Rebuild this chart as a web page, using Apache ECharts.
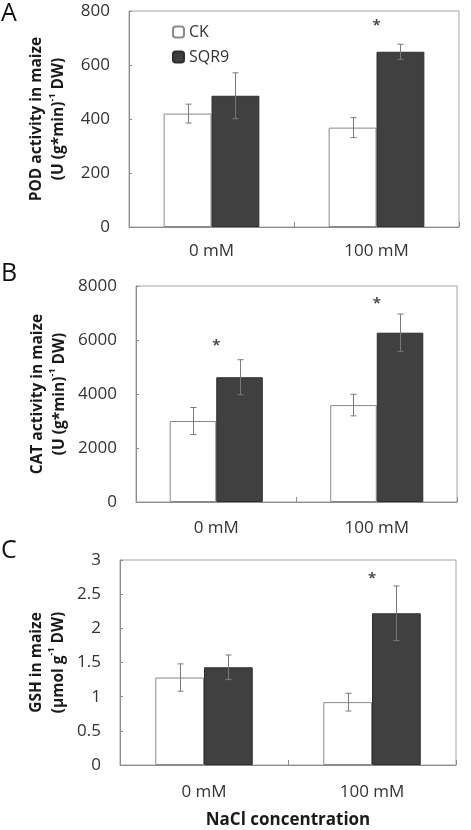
<!DOCTYPE html>
<html>
<head>
<meta charset="utf-8">
<script src="https://cdn.jsdelivr.net/npm/echarts@6/dist/echarts.min.js"></script>
<style>html,body{margin:0;padding:0;background:#fff;}#c{width:471px;height:830px;}</style>
</head>
<body>
<div id="c"></div>
<script>
// ---- data ----
const categories = ['0 mM', '100 mM'];
const seriesNames = ['CK', 'SQR9'];

const podCK = [420, 368];
const podCKErr = [35, 37];
const podSQR9 = [486, 649];
const podSQR9Err = [85, 28];
const podStars = [[1, 757]];

const catCK = [3000, 3590];
const catCKErr = [500, 400];
const catSQR9 = [4620, 6270];
const catSQR9Err = [650, 690];
const catStars = [[0, 5900], [1, 7440]];

const gshCK = [1.28, 0.92];
const gshCKErr = [0.2, 0.13];
const gshSQR9 = [1.43, 2.22];
const gshSQR9Err = [0.18, 0.4];
const gshStars = [[1, 2.77]];

const podTicks = [0, 200, 400, 600, 800];
const catTicks = [0, 2000, 4000, 6000, 8000];
const gshTicks = [0, 0.5, 1, 1.5, 2, 2.5, 3];

// ---- chart ----
const FONT = 'Open Sans';
const GAP = 0.42;
const chart = echarts.init(document.getElementById('c'), null, {renderer: 'canvas'});

const grids = [
  {left: 129, right: 12, top: 11, height: 216},
  {left: 136, right: 14, top: 286, height: 216},
  {left: 120, right: 15, top: 560, height: 207}
];

function yName(line1, line2a, line2b) {
  return '{t|' + line1 + '}\n{t|' + line2a + '}{s|-1}{t|' + line2b + '}';
}
const nameRich = {
  t: {fontFamily: FONT, fontSize: 15.5, fontWeight: 'bold', color: '#1a1a1a', lineHeight: 22},
  s: {fontFamily: FONT, fontSize: 9, fontWeight: 'bold', color: '#1a1a1a', lineHeight: 14, verticalAlign: 'top'}
};

const yNames = [
  yName('POD activity in maize', '(U (g*min)', ' DW)'),
  yName('CAT activity in maize', '(U (g*min)', ' DW)'),
  yName('GSH in maize', '(\u00b5mol g', ' DW)')
];
const yTicks = [podTicks, catTicks, gshTicks];
const yGaps = [59, 65, 50];
const xMargins = [16, 18, 19];

const xAxes = grids.map((g, i) => ({
  type: 'category', gridIndex: i, data: categories,
  axisLine: {show: true, lineStyle: {color: '#8c8c8c', width: 1}},
  axisTick: {show: true, inside: true, length: 5, lineStyle: {color: '#8c8c8c'}},
  axisLabel: {fontFamily: FONT, fontSize: 17, color: '#333', margin: xMargins[i]},
  splitLine: {show: false},
  name: i === 2 ? 'NaCl concentration' : '',
  nameLocation: 'middle', nameGap: 47,
  nameTextStyle: {fontFamily: FONT, fontSize: 17, fontWeight: 'bold', color: '#1a1a1a'}
}));

const yAxes = grids.map((g, i) => {
  const t = yTicks[i];
  return {
    type: 'value', gridIndex: i,
    min: t[0], max: t[t.length - 1], interval: t[1] - t[0],
    axisLine: {show: true, lineStyle: {color: '#8c8c8c', width: 1}},
    axisTick: {show: true, inside: true, length: 3, lineStyle: {color: '#8c8c8c'}},
    axisLabel: {fontFamily: FONT, fontSize: 17, color: '#333', margin: 19, formatter: v => String(v)},
    splitLine: {show: false},
    name: yNames[i], nameLocation: 'middle', nameRotate: 90, nameGap: yGaps[i],
    nameTextStyle: {rich: nameRich}
  };
});

function errSeries(gi, means, errs, side) {
  return {
    type: 'custom', xAxisIndex: gi, yAxisIndex: gi, z: 5, silent: true,
    data: means.map((m, k) => [k, m, errs[k]]),
    encode: {x: 0, y: 1},
    renderItem: function (params, api) {
      const k = api.value(0), m = api.value(1), e = api.value(2);
      const band = api.size([1, 0])[0];
      const bw = band * (1 - GAP) / 2;
      const x = Math.round(api.coord([k, m])[0] + side * bw / 2) + 0.5;
      const yt = api.coord([k, m + e])[1];
      const yb = api.coord([k, m - e])[1];
      const cap = 3;
      const st = {stroke: '#7a7a7a', lineWidth: 1};
      return {type: 'group', children: [
        {type: 'line', shape: {x1: x, y1: yt, x2: x, y2: yb}, style: st},
        {type: 'line', shape: {x1: x - cap, y1: yt, x2: x + cap, y2: yt}, style: st},
        {type: 'line', shape: {x1: x - cap, y1: yb, x2: x + cap, y2: yb}, style: st}
      ]};
    }
  };
}

function barSeries(gi, name, vals) {
  const isCK = name === 'CK';
  return {
    type: 'bar', name: name, xAxisIndex: gi, yAxisIndex: gi, data: vals,
    barGap: '0%', barCategoryGap: (GAP * 100) + '%',
    itemStyle: isCK ? {color: '#ffffff', borderColor: '#8a8a8a', borderWidth: 1}
                    : {color: '#404040', borderColor: '#2e2e2e', borderWidth: 1},
    silent: true
  };
}

function starSeries(gi, pts) {
  return {
    type: 'scatter', xAxisIndex: gi, yAxisIndex: gi, data: pts, z: 6, silent: true,
    symbol: 'circle', symbolSize: 2, itemStyle: {color: 'rgba(0,0,0,0)'},
    label: {show: true, formatter: '*', position: 'inside', fontFamily: FONT, fontSize: 15, fontWeight: 'bold', color: '#1a1a1a', offset: [0, 3]}
  };
}

const panels = [
  [podCK, podCKErr, podSQR9, podSQR9Err, podStars],
  [catCK, catCKErr, catSQR9, catSQR9Err, catStars],
  [gshCK, gshCKErr, gshSQR9, gshSQR9Err, gshStars]
];
const series = [];
panels.forEach((p, gi) => {
  series.push(barSeries(gi, seriesNames[0], p[0]));
  series.push(barSeries(gi, seriesNames[1], p[2]));
  series.push(errSeries(gi, p[0], p[1], -1));
  series.push(errSeries(gi, p[2], p[3], 1));
  series.push(starSeries(gi, p[4]));
});

const letters = [['A', 16], ['B', 276], ['C', 553]];

chart.setOption({
  animation: false,
  backgroundColor: '#ffffff',
  grid: grids.map(g => Object.assign({show: true, borderColor: '#a6a6a6', borderWidth: 1, backgroundColor: 'transparent'}, g)),
  xAxis: xAxes,
  yAxis: yAxes,
  legend: {
    data: seriesNames, orient: 'vertical', left: 167, top: 19,
    itemWidth: 11, itemHeight: 11, itemGap: 9,
    textStyle: {fontFamily: FONT, fontSize: 16, color: '#333', padding: [0, 0, 0, 0], lineHeight: 16},
    selectedMode: false
  },
  graphic: letters.map(l => ({
    type: 'text', left: 1, top: l[1] - 15,
    style: {text: l[0], fontFamily: FONT, fontSize: 25, fill: '#111'}
  })),
  series: series
});
</script>
</body>
</html>
